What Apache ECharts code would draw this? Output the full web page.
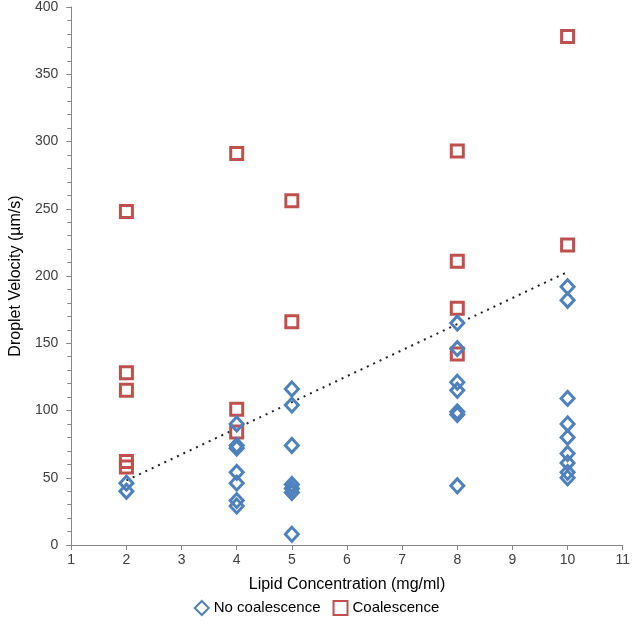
<!DOCTYPE html>
<html><head><meta charset="utf-8">
<script src="https://cdn.jsdelivr.net/npm/echarts@6/dist/echarts.min.js"></script>
<style>html,body{margin:0;padding:0;background:#fff}#c{width:633px;height:628px}</style>
</head><body><div id="c"></div>
<script>
const noCoalX = [2,2, 4,4,4,4,4,4,4, 5,5,5,5,5,5,5, 8,8,8,8,8,8,8, 10,10,10,10,10,10,10,10,10];
const noCoalY = [46,40, 90,74,72,54,46,33,29, 116,104,74,45,42,39,8, 165,146,121,115,99,97,44, 192,182,109,90,80,68,61,54,50];
const coalX = [2,2,2,2,2, 4,4,4, 5,5, 8,8,8,8, 10,10];
const coalY = [248,128,115,62,58, 291,101,84, 256,166, 293,211,176,142, 378,223];
const trendX = [2,10];
const trendY = [48,203];
const xTitle = 'Lipid Concentration (mg/ml)';
const yTitle = 'Droplet Velocity (µm/s)';
const names = ['No coalescence','Coalescence'];

const pts = (xs, ys) => xs.map((x,i)=>[x, ys[i]]);
const font = 'Liberation Sans';
const axisCol = '#868686';
const chart = echarts.init(document.getElementById('c'));
chart.setOption({
  animation:false,
  textStyle:{fontFamily:font},
  grid:{left:62,right:7,top:5,bottom:83,containLabel:false},
  xAxis:{type:'value',min:1,max:11,interval:1,
    name:xTitle,nameLocation:'middle',nameGap:32,
    nameTextStyle:{fontSize:16,color:'#000',fontFamily:font},
    axisLine:{lineStyle:{color:axisCol,width:1}},
    axisTick:{show:true,length:5,lineStyle:{color:axisCol}},
    axisLabel:{fontSize:14,color:'#404040',margin:8},
    splitLine:{show:false}},
  yAxis:{type:'value',min:0,max:400,interval:50,
    name:yTitle,nameLocation:'middle',nameGap:47,
    nameTextStyle:{fontSize:16,color:'#000',fontFamily:font},
    axisLine:{show:true,lineStyle:{color:axisCol,width:1}},
    axisTick:{show:true,length:5,lineStyle:{color:axisCol}},
    minorTick:{show:true,splitNumber:5,length:4,lineStyle:{color:axisCol}},
    axisLabel:{fontSize:14,color:'#404040',margin:13},
    splitLine:{show:false}},
  legend:{bottom:7,left:'center',itemGap:12,itemWidth:14,itemHeight:14,
    data:names,textStyle:{fontSize:15,color:'#000',fontFamily:font}},
  series:[
    {name:'trend',type:'line',data:pts(trendX,trendY),symbol:'none',silent:true,
     lineStyle:{color:'#222',width:2,type:[2,5]},z:1},
    {name:names[0],type:'scatter',data:pts(noCoalX,noCoalY),symbol:'diamond',symbolSize:[13,14],
     itemStyle:{color:'rgba(255,255,255,0)',borderColor:'#4F81BD',borderWidth:3,opacity:1},z:3},
    {name:names[1],type:'scatter',data:pts(coalX,coalY),symbol:'rect',symbolSize:12,
     itemStyle:{color:'rgba(255,255,255,0)',borderColor:'#C0504D',borderWidth:3,opacity:1},z:2}
  ]
});
</script></body></html>
